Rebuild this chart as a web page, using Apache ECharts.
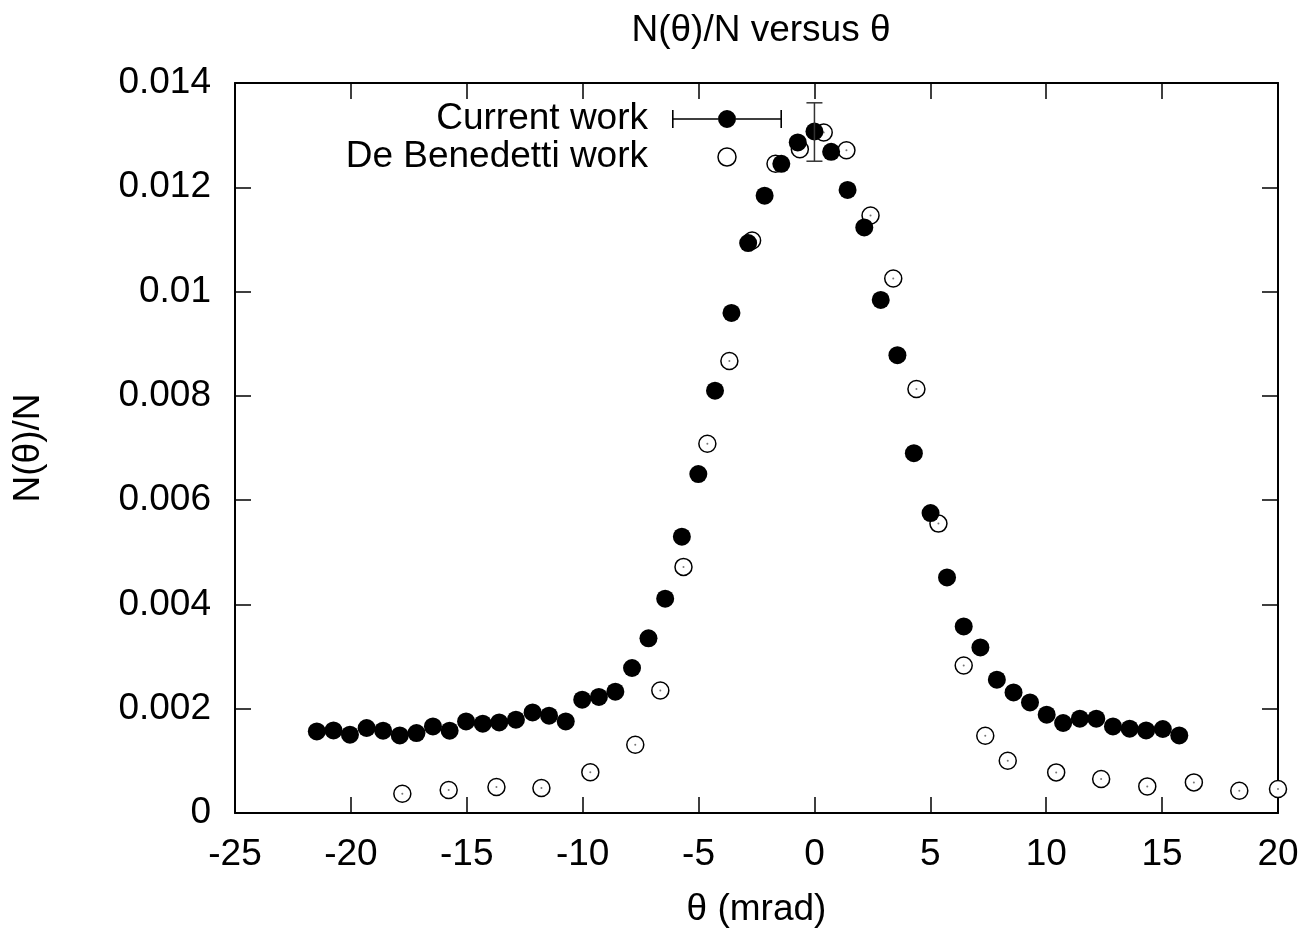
<!DOCTYPE html>
<html>
<head>
<meta charset="utf-8">
<script src="https://cdn.jsdelivr.net/npm/echarts@6/dist/echarts.min.js"></script>
<style>
html,body{margin:0;padding:0;background:#fff;}
#chart{width:1310px;height:933px;}
</style>
</head>
<body>
<div id="chart"></div>
<script>
// Current work (filled circles)
const currentTheta = [-21.47, -20.75, -20.04, -19.32, -18.61, -17.89, -17.17, -16.46, -15.74, -15.03,
  -14.31, -13.60, -12.88, -12.16, -11.45, -10.73, -10.02, -9.30, -8.59, -7.87,
  -7.16, -6.44, -5.72, -5.01, -4.29, -3.58, -2.86, -2.15, -1.43, -0.72,
  0.00, 0.72, 1.43, 2.15, 2.86, 3.58, 4.29, 5.01, 5.72, 6.44,
  7.16, 7.87, 8.59, 9.30, 10.02, 10.73, 11.45, 12.16, 12.88, 13.60,
  14.31, 15.03, 15.74];
const currentValue = [0.001565, 0.001584, 0.001502, 0.001630, 0.001578, 0.001488, 0.001534, 0.001661, 0.001578, 0.001757,
  0.001713, 0.001738, 0.001789, 0.001929, 0.001866, 0.001757, 0.002173, 0.002225, 0.002326, 0.002781,
  0.00335, 0.00411, 0.00530, 0.00650, 0.00810, 0.00959, 0.01093, 0.01184, 0.01245, 0.01286,
  0.01307, 0.01268, 0.01195, 0.01123, 0.00984, 0.00878, 0.00690, 0.005753, 0.004518, 0.003579,
  0.003176, 0.002557, 0.002313, 0.002121, 0.001885, 0.001726, 0.001808, 0.001808, 0.001661, 0.001617,
  0.001584, 0.001611, 0.001488];
// De Benedetti work (open circles)
const debenTheta = [-17.78, -15.78, -13.72, -11.78, -9.67, -7.73, -6.65, -5.65, -4.62, -3.67,
  -2.69, -1.68, -0.63, 0.40, 1.38, 2.42, 3.40, 4.40, 5.35, 6.44,
  7.37, 8.34, 10.43, 12.37, 14.36, 16.37, 18.33, 20.00];
const debenValue = [0.00037, 0.00044, 0.000499, 0.00048, 0.00078, 0.00131, 0.00235, 0.00472, 0.00708, 0.00867,
  0.01098, 0.01245, 0.01273, 0.01305, 0.01271, 0.01146, 0.01025, 0.00813, 0.00555, 0.00283,
  0.00148, 0.001003, 0.000779, 0.000652, 0.00051, 0.000587, 0.000428, 0.00046];
// Error bar on the central point
const errTheta = [0.0];
const errLow = [0.01250];
const errHigh = [0.01362];

const titleText = 'N(θ)/N versus θ';
const xName = 'θ (mrad)';
const yName = 'N(θ)/N';
const nameCurrent = 'Current work';
const nameDeBen = 'De Benedetti work';

const FONT = 'Liberation Sans, Arial, sans-serif';
const FS = 37;

const currentData = currentTheta.map((t, i) => [t, currentValue[i]]);
const debenData = debenTheta.map((t, i) => [t, debenValue[i]]);
const errData = errTheta.map((t, i) => [t, errLow[i], errHigh[i]]);

// legend icon: filled dot with horizontal error bar (110 x 18 box)
const errIcon = 'path://M0 0H1.6V18H0Z M108.4 0H110V18H108.4Z M0 8.2H46V9.8H0Z M64 8.2H110V9.8H64Z M46 9A9 9 0 1 1 64 9A9 9 0 1 1 46 9Z';

const chart = echarts.init(document.getElementById('chart'), null, {renderer: 'canvas'});
const tickStyle = {show: true, inside: true, length: 16, lineStyle: {color: '#000', width: 1.5}};
const lineStyle = {show: true, onZero: false, lineStyle: {color: '#000', width: 2}};
chart.setOption({
  animation: false,
  backgroundColor: '#fff',
  title: {
    text: titleText, left: 756, top: 7, textAlign: 'center',
    textStyle: {fontFamily: FONT, fontSize: FS, fontWeight: 'normal', color: '#000'}
  },
  grid: {left: 235, right: 32, top: 83, bottom: 120, containLabel: false},
  legend: {
    orient: 'vertical', align: 'right', right: 528, top: 100, padding: 0, itemGap: 0,
    itemWidth: 110, itemHeight: 18,
    selectedMode: false,
    textStyle: {fontFamily: FONT, fontSize: FS, color: '#000', lineHeight: 38, padding: [0, 19, 0, 0]},
    data: [
      {name: nameCurrent, icon: errIcon, itemStyle: {color: '#000', borderWidth: 0}},
      {name: nameDeBen, icon: 'circle', itemStyle: {color: '#fff', borderColor: '#000', borderWidth: 1.5}}
    ]
  },
  xAxis: [{
    type: 'value', min: -25, max: 20, interval: 5, position: 'bottom',
    name: xName, nameLocation: 'middle', nameGap: 78,
    nameTextStyle: {fontFamily: FONT, fontSize: FS, color: '#000'},
    axisLine: lineStyle, axisTick: tickStyle, splitLine: {show: false},
    axisLabel: {fontFamily: FONT, fontSize: FS, color: '#000', margin: 23}
  }, {
    type: 'value', min: -25, max: 20, interval: 5, position: 'top',
    axisLine: lineStyle, axisTick: tickStyle, splitLine: {show: false},
    axisLabel: {show: false}
  }],
  yAxis: [{
    type: 'value', min: 0, max: 0.014, interval: 0.002, position: 'left',
    name: yName, nameLocation: 'middle', nameGap: 188, nameRotate: 90,
    nameTextStyle: {fontFamily: FONT, fontSize: FS, color: '#000'},
    axisLine: lineStyle, axisTick: tickStyle, splitLine: {show: false},
    axisLabel: {fontFamily: FONT, fontSize: FS, color: '#000', margin: 24}
  }, {
    type: 'value', min: 0, max: 0.014, interval: 0.002, position: 'right',
    axisLine: lineStyle, axisTick: tickStyle, splitLine: {show: false},
    axisLabel: {show: false}
  }],
  series: [
    {
      name: nameDeBen, type: 'scatter', data: debenData, symbol: 'circle', symbolSize: 17,
      itemStyle: {color: '#fff', borderColor: '#000', borderWidth: 1.5, opacity: 1}, z: 2, silent: true
    },
    {
      name: nameDeBen + ' centre', type: 'scatter', data: debenData, symbol: 'circle', symbolSize: 2,
      itemStyle: {color: '#777', opacity: 1}, z: 3, silent: true
    },
    {
      name: nameCurrent, type: 'scatter', data: currentData, symbol: 'circle', symbolSize: 18,
      itemStyle: {color: '#000', opacity: 1}, z: 4, silent: true
    },
    {
      name: 'error', type: 'custom', data: errData, z: 5, silent: true,
      encode: {x: 0, y: [1, 2]},
      renderItem: function (params, api) {
        const x = api.value(0);
        const pLo = api.coord([x, api.value(1)]);
        const pHi = api.coord([x, api.value(2)]);
        const w = 8;
        const st = {stroke: '#333', lineWidth: 1.5};
        return {
          type: 'group',
          children: [
            {type: 'line', shape: {x1: pLo[0], y1: pLo[1], x2: pHi[0], y2: pHi[1]}, style: st},
            {type: 'line', shape: {x1: pLo[0] - w, y1: pLo[1], x2: pLo[0] + w, y2: pLo[1]}, style: st},
            {type: 'line', shape: {x1: pHi[0] - w, y1: pHi[1], x2: pHi[0] + w, y2: pHi[1]}, style: st}
          ]
        };
      }
    }
  ]
});
</script>
</body>
</html>
